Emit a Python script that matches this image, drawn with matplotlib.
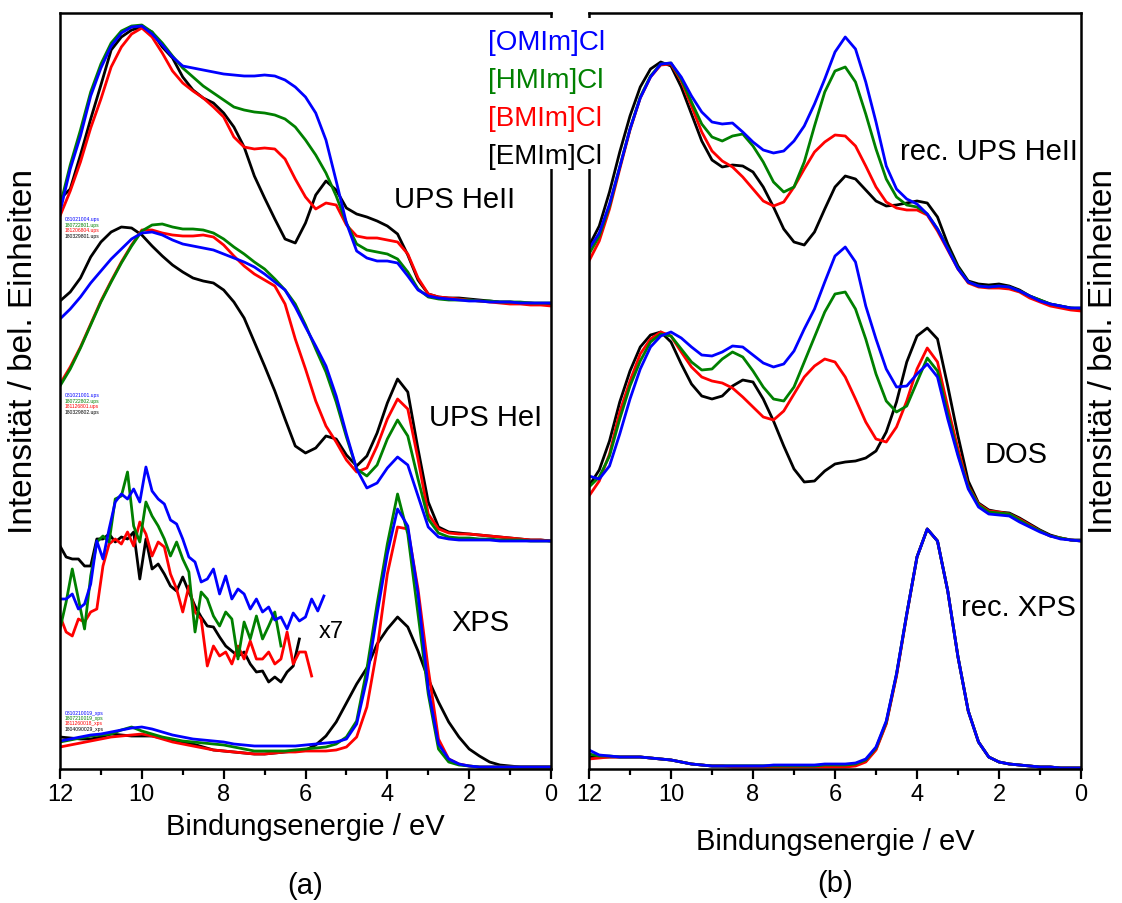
import numpy as np
import matplotlib.pyplot as plt
from matplotlib.patches import Rectangle
from matplotlib.ticker import MultipleLocator

plt.rcParams['font.family'] = ['Liberation Sans', 'DejaVu Sans']

# binding energy grid, 12 eV -> 0 eV in 0.25 eV steps
energy = np.linspace(12, 0, 49)
# finer grid for the magnified XPS valence tails
x7_energy = 12 - 0.15 * np.arange(44)

samples = ['[OMIm]Cl', '[HMIm]Cl', '[BMIm]Cl', '[EMIm]Cl']
colors = ['blue', 'green', 'red', 'black']

# ---- (a) measured spectra, intensities in a.u. ----
ups_he2 = {
    '[OMIm]Cl': [97, 140, 173, 213, 241, 263, 276, 282, 283, 275, 264, 252, 243, 241, 239, 237, 235, 234, 233, 233,
                 234, 233, 229, 222, 212, 196, 169, 128, 86, 58, 51, 48, 48, 46, 33, 19, 13, 11, 10, 9,
                 8, 8, 7, 7, 7, 6, 6, 6, 6],
    '[HMIm]Cl': [103, 144, 179, 217, 245, 266, 278, 283, 284, 277, 266, 253, 241, 232, 223, 216, 209, 202, 199, 197,
                 196, 194, 190, 182, 169, 154, 136, 113, 86, 65, 59, 57, 55, 50, 37, 20, 12, 10, 9, 9,
                 9, 8, 8, 7, 7, 7, 6, 6, 6],
    '[BMIm]Cl': [93, 118, 147, 181, 210, 242, 262, 275, 281, 272, 256, 238, 226, 218, 211, 202, 192, 172, 162, 160,
                 161, 160, 150, 130, 112, 100, 106, 104, 84, 73, 71, 71, 69, 67, 55, 31, 15, 12, 11, 10,
                 9, 8, 7, 6, 5, 5, 4, 4, 3],
    '[EMIm]Cl': [110, 120, 154, 190, 224, 259, 272, 279, 282, 277, 262, 251, 232, 219, 211, 206, 196, 182, 162, 133,
                 111, 90, 70, 66, 86, 114, 128, 119, 101, 95, 92, 88, 83, 75, 54, 29, 15, 12, 11, 11,
                 10, 9, 8, 7, 7, 6, 6, 5, 5],
}
ups_he1 = {
    '[OMIm]Cl': [225, 235, 247, 261, 273, 285, 295, 305, 311, 312, 309, 304, 300, 298, 296, 294, 290, 286, 282, 277,
                 270, 262, 254, 237, 217, 198, 178, 148, 110, 75, 56, 61, 76, 87, 79, 48, 17, 7, 5, 4,
                 4, 4, 4, 3, 3, 3, 3, 3, 3],
    '[HMIm]Cl': [158, 175, 196, 219, 242, 262, 281, 298, 313, 319, 320, 317, 315, 315, 314, 311, 305, 297, 290, 282,
                 275, 265, 254, 240, 219, 195, 172, 142, 107, 75, 68, 79, 105, 124, 108, 65, 25, 11, 7, 6,
                 6, 5, 5, 4, 4, 4, 3, 3, 3],
    '[BMIm]Cl': [160, 177, 197, 220, 243, 263, 282, 299, 314, 314, 311, 309, 308, 308, 309, 307, 299, 288, 278, 270,
                 264, 258, 240, 205, 175, 143, 118, 102, 84, 72, 76, 98, 125, 145, 135, 85, 30, 15, 11, 10,
                 10, 9, 8, 7, 6, 5, 4, 4, 3],
    '[EMIm]Cl': [243, 252, 266, 287, 302, 312, 317, 316, 309, 298, 288, 279, 272, 266, 263, 261, 254, 242, 226, 202,
                 178, 153, 125, 98, 91, 96, 108, 105, 89, 78, 88, 111, 141, 165, 152, 95, 42, 17, 12, 11,
                 10, 9, 8, 7, 6, 5, 4, 4, 3],
}
xps = {
    '[OMIm]Cl': [28, 30, 32, 34, 35, 37, 39, 41, 42, 40, 37, 34, 32, 30, 29, 28, 27, 25, 24, 23,
                 23, 23, 23, 23, 24, 25, 26, 27, 30, 45, 90, 155, 215, 260, 243, 175, 80, 25, 10, 5,
                 3, 2, 2, 2, 2, 2, 2, 2, 2],
    '[HMIm]Cl': [27, 29, 31, 33, 34, 35, 39, 42, 38, 35, 32, 30, 28, 27, 26, 25, 24, 22, 20, 18,
                 18, 18, 18, 19, 20, 21, 22, 25, 32, 48, 100, 165, 225, 275, 235, 155, 75, 20, 7, 4,
                 3, 2, 2, 2, 2, 2, 2, 2, 2],
    '[BMIm]Cl': [22, 24, 26, 28, 30, 32, 33, 34, 35, 33, 30, 27, 25, 23, 21, 19, 18, 17, 16, 15,
                 15, 16, 17, 17, 18, 18, 18, 19, 22, 32, 62, 120, 195, 242, 240, 180, 100, 30, 10, 5,
                 3, 2, 2, 2, 2, 2, 2, 2, 2],
    '[EMIm]Cl': [32, 31, 30, 30, 32, 35, 34, 33, 33, 33, 31, 29, 27, 25, 22, 19, 18, 17, 16, 15,
                 15, 16, 17, 18, 19, 24, 33, 47, 66, 85, 101, 125, 140, 152, 142, 118, 90, 67, 47, 32,
                 20, 13, 7, 4, 3, 2, 2, 2, 2],
}
# valence region of the XPS spectra, magnified x7
xps_x7 = {
    '[OMIm]Cl': [170, 170, 175, 160, 165, 185, 228, 210, 240, 267, 275, 270, 280, 267, 302, 278, 270, 265, 249, 245,
                 230, 212, 207, 187, 190, 200, 175, 193, 170, 180, 175, 160, 170, 157, 162, 149, 152, 140, 156, 148,
                 152, 170, 158, 173],
    '[HMIm]Cl': [140, 167, 200, 170, 140, 193, 227, 233, 227, 270, 273, 297, 243, 227, 267, 253, 243, 230, 213, 227,
                 210, 197, 137, 177, 170, 153, 143, 157, 150, 110, 147, 130, 153, 130, 143, 157, 123],
    '[BMIm]Cl': [153, 137, 133, 150, 147, 157, 160, 203, 225, 230, 225, 237, 223, 247, 235, 213, 227, 222, 195, 180,
                 157, 183, 157, 150, 103, 123, 113, 117, 105, 123, 110, 128, 110, 110, 117, 105, 110, 137, 105, 117,
                 117, 93],
    '[EMIm]Cl': [223, 212, 210, 210, 203, 203, 230, 230, 235, 227, 232, 230, 237, 190, 230, 200, 205, 195, 183, 178,
                 192, 177, 163, 152, 143, 142, 132, 123, 118, 113, 117, 105, 97, 98, 87, 92, 87, 97, 103, 130],
}

# ---- (b) reconstructed spectra and density of states ----
rec_he2 = {
    '[OMIm]Cl': [65, 81, 110, 147, 185, 216, 237, 250, 251, 237, 218, 202, 192, 190, 191, 182, 172, 164, 161, 163,
                 173, 188, 210, 235, 262, 277, 265, 232, 192, 148, 125, 115, 110, 100, 85, 65, 45, 32, 28, 27,
                 28, 27, 23, 18, 13, 10, 8, 6, 6],
    '[HMIm]Cl': [60, 78, 108, 147, 185, 217, 238, 250, 251, 235, 212, 190, 177, 173, 178, 180, 168, 152, 132, 122,
                 127, 152, 188, 222, 243, 247, 232, 200, 165, 135, 117, 109, 107, 100, 85, 66, 46, 32, 28, 27,
                 28, 27, 23, 18, 14, 10, 8, 6, 6],
    '[BMIm]Cl': [53, 73, 105, 145, 184, 216, 237, 249, 250, 233, 208, 182, 163, 153, 147, 137, 125, 113, 108, 112,
                 127, 145, 162, 172, 179, 178, 168, 148, 127, 112, 106, 104, 104, 99, 83, 64, 45, 31, 27, 26,
                 26, 25, 22, 16, 12, 8, 6, 4, 3],
    '[EMIm]Cl': [68, 88, 122, 162, 198, 227, 245, 252, 248, 227, 200, 173, 154, 147, 149, 148, 142, 127, 107, 85,
                 72, 69, 82, 105, 127, 138, 135, 124, 113, 108, 109, 111, 113, 111, 97, 70, 48, 33, 30, 29,
                 30, 28, 24, 18, 14, 10, 8, 6, 5],
}
dos = {
    '[OMIm]Cl': [68, 65, 78, 110, 145, 175, 197, 208, 212, 206, 197, 189, 188, 192, 198, 197, 189, 181, 177, 180,
                 193, 215, 235, 262, 288, 297, 282, 238, 205, 175, 157, 158, 170, 180, 167, 125, 88, 55, 37, 30,
                 29, 28, 22, 17, 12, 8, 5, 4, 3],
    '[HMIm]Cl': [57, 67, 88, 125, 158, 183, 202, 210, 208, 195, 182, 174, 175, 185, 192, 187, 173, 157, 145, 143,
                 157, 182, 207, 232, 250, 252, 235, 205, 170, 143, 132, 138, 162, 186, 173, 130, 90, 57, 39, 32,
                 31, 30, 24, 18, 13, 8, 6, 4, 3],
    '[BMIm]Cl': [48, 63, 90, 132, 163, 190, 205, 212, 208, 192, 177, 167, 163, 161, 156, 147, 137, 127, 124, 133,
                 150, 167, 178, 185, 182, 167, 145, 122, 105, 102, 117, 143, 175, 196, 182, 137, 95, 58, 40, 33,
                 32, 30, 25, 19, 13, 8, 6, 4, 3],
    '[EMIm]Cl': [58, 74, 103, 142, 173, 197, 209, 212, 202, 180, 160, 148, 145, 148, 158, 164, 162, 145, 123, 98,
                 75, 62, 63, 73, 80, 82, 83, 86, 93, 112, 142, 182, 208, 216, 205, 158, 108, 63, 41, 34,
                 32, 31, 26, 20, 14, 9, 6, 4, 4],
}
rec_xps = {
    '[OMIm]Cl': [19, 14, 13, 12, 12, 12, 11, 10, 9, 7, 5, 4, 3, 3, 3, 3, 3, 3, 4, 4,
                 4, 4, 4, 5, 5, 5, 6, 10, 22, 48, 95, 155, 212, 240, 228, 178, 112, 58, 27, 12,
                 7, 5, 4, 3, 2, 2, 1, 1, 1],
    '[HMIm]Cl': [15, 13, 13, 12, 12, 12, 11, 10, 9, 7, 5, 4, 3, 3, 3, 3, 3, 3, 3, 3,
                 3, 3, 3, 4, 4, 4, 5, 9, 21, 47, 95, 155, 212, 240, 228, 178, 112, 58, 27, 12,
                 7, 5, 4, 3, 2, 2, 1, 1, 1],
    '[BMIm]Cl': [10, 11, 12, 12, 12, 12, 11, 10, 9, 7, 5, 4, 3, 3, 2, 2, 2, 2, 2, 2,
                 2, 2, 2, 2, 2, 2, 3, 7, 19, 45, 93, 154, 212, 240, 228, 178, 112, 58, 27, 12,
                 7, 5, 4, 3, 2, 2, 1, 1, 1],
    '[EMIm]Cl': [12, 12, 12, 12, 12, 12, 11, 10, 9, 7, 5, 4, 3, 3, 3, 3, 3, 3, 3, 3,
                 3, 3, 3, 3, 3, 3, 4, 8, 20, 46, 94, 155, 212, 240, 228, 178, 112, 58, 27, 12,
                 7, 5, 4, 3, 2, 2, 1, 1, 1],
}

# measurement file names shown next to each stack in (a)
files_he2 = ['081021004.ups', '180722801.ups', '181206804.ups', '180329801.ups']
files_he1 = ['081021001.ups', '180722802.ups', '181126801.ups', '180329802.ups']
files_xps = ['0810210019_xps', '1807210019_xps', '1811260018_xps', '1804090029_xps']

# vertical offsets of the stacked spectra
off_a = {'he2': 460, 'he1': 225, 'xps': 0}
off_b = {'he2': 455, 'dos': 225, 'xps': 0}

W, H = 1122, 904


def fx(px):
    return px / W


def fy(py):
    return 1 - py / H


fig = plt.figure(figsize=(W / 100, H / 100), dpi=100)
ax_a = fig.add_axes([fx(60), fy(770), (551 - 60) / W, (770 - 14) / H])
ax_b = fig.add_axes([fx(589), fy(770), (1081 - 589) / W, (770 - 14) / H])

lw = 2.0
order = [3, 2, 1, 0]  # black first, blue on top

for i in order:
    s, c = samples[i], colors[i]
    ax_a.plot(energy, np.array(ups_he2[s]) + off_a['he2'], color=c, lw=lw)
    ax_a.plot(energy, np.array(ups_he1[s]) + off_a['he1'], color=c, lw=lw)
    ax_a.plot(energy, np.array(xps[s]) + off_a['xps'], color=c, lw=lw)
    tail = xps_x7[s]
    ax_a.plot(x7_energy[:len(tail)], tail, color=c, lw=lw)

    ax_b.plot(energy, np.array(rec_he2[s]) + off_b['he2'], color=c, lw=lw)
    ax_b.plot(energy, np.array(dos[s]) + off_b['dos'], color=c, lw=lw)
    ax_b.plot(energy, np.array(rec_xps[s]) + off_b['xps'], color=c, lw=lw)

for ax in (ax_a, ax_b):
    ax.set_xlim(12, 0)
    ax.set_ylim(0, 756)
    ax.set_yticks([])
    ax.xaxis.set_major_locator(MultipleLocator(2))
    ax.xaxis.set_minor_locator(MultipleLocator(1))
    ax.tick_params(axis='x', which='major', direction='out', length=7, width=1.6,
                   labelsize=17, pad=3)
    ax.tick_params(axis='x', which='minor', direction='out', length=4, width=1.6)
    for sp in ax.spines.values():
        sp.set_linewidth(1.8)

# spectrum labels
txt = dict(fontsize=21, ha='center', va='center')
fig.text(fx(455), fy(200), 'UPS HeII', **txt)
fig.text(fx(486), fy(418), 'UPS HeI', **txt)
fig.text(fx(480), fy(623), 'XPS', **txt)
fig.text(fx(331), fy(632), 'x7', fontsize=17, ha='center', va='center')
fig.text(fx(989), fy(152), 'rec. UPS HeII', **txt)
fig.text(fx(1016), fy(455), 'DOS', **txt)
fig.text(fx(1018), fy(608), 'rec. XPS', **txt)

# tiny file-name legends
for names, y0 in ((files_he2, 220), (files_he1, 396), (files_xps, 713)):
    for k, name in enumerate(names):
        fig.text(fx(65), fy(y0 + 5.5 * k), name, color=colors[k], fontsize=3.6, va='center')

# axis titles
fig.text(fx(305), fy(827), 'Bindungsenergie / eV', fontsize=21, ha='center', va='center')
fig.text(fx(835), fy(842), 'Bindungsenergie / eV', fontsize=21, ha='center', va='center')
fig.text(fx(24), fy(352), 'Intensität / bel. Einheiten', fontsize=24, rotation=90,
         ha='center', va='center')
fig.text(fx(1104), fy(352), 'Intensität / bel. Einheiten', fontsize=24, rotation=90,
         ha='center', va='center')
fig.text(fx(305), fy(886), '(a)', fontsize=21, ha='center', va='center')
fig.text(fx(835), fy(884), '(b)', fontsize=21, ha='center', va='center')

# sample legend between the panels on a white patch
fig.patches.append(Rectangle((fx(484), fy(170)), (614 - 484) / W, (170 - 19) / H,
                             transform=fig.transFigure, facecolor='white', edgecolor='none', zorder=1))
for k, (s, c) in enumerate(zip(samples, colors)):
    fig.text(fx(488), fy(43 + 38 * k), s, color=c, fontsize=20, ha='left', va='center', zorder=2)

fig.savefig('out.png', dpi=100)
